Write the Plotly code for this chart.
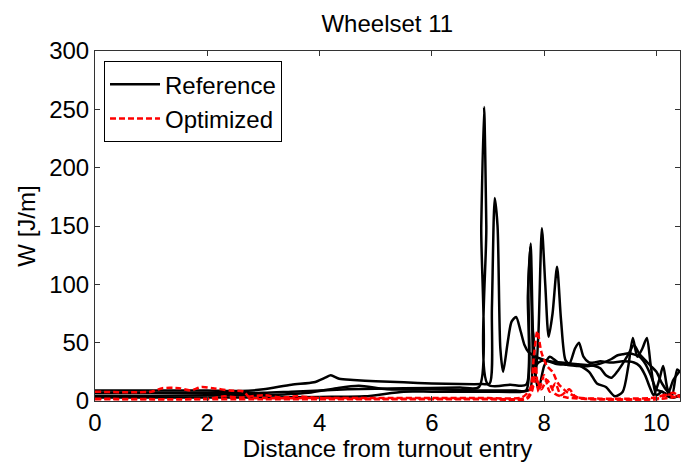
import plotly.graph_objects as go

# ---- Reference (black) curves ----
ref1_x = [0, 1, 2, 3, 3.5, 4.5, 5.5, 6.5, 6.84, 6.88, 6.93, 6.97, 7.0, 7.4, 7.68, 7.71, 7.75, 7.79, 7.84, 7.9, 8.0, 8.2, 8.4, 8.6, 8.8, 9.0, 9.2, 9.3, 9.4, 9.5, 9.6, 9.7, 9.8, 9.9, 10.0, 10.1, 10.2, 10.3, 10.42]
ref1_y = [7, 7, 7, 7, 8, 10, 11, 11.5, 12, 150, 252, 150, 14, 14, 14, 90, 132, 60, 30, 33, 35, 32, 31, 30, 30, 32, 36, 39, 40, 41, 40, 38, 32, 22, 10, 8, 6, 18, 26]

ref2_x = [0, 1, 2, 2.6, 3.0, 3.5, 3.9, 4.1, 4.2, 4.35, 4.6, 5.0, 5.5, 6.0, 6.5, 6.9, 7.03, 7.07, 7.12, 7.17, 7.22, 7.27, 7.35, 7.42, 7.5, 7.58, 7.65, 7.72, 7.78, 7.85, 7.95, 8.1, 8.3, 8.5, 8.7, 8.9, 9.0, 9.1, 9.2, 9.3, 9.4, 9.5, 9.6, 9.7, 9.8, 9.9, 10.0, 10.1, 10.2, 10.3, 10.42]
ref2_y = [9, 9, 9, 8.5, 10, 14, 16, 20, 22, 19, 18, 17, 16, 15, 14.5, 14.5, 15, 80, 174, 150, 45, 25, 50, 68, 72, 60, 48, 42, 40, 38, 36, 34, 33, 32, 31, 30, 28, 22, 20, 25, 32, 40, 48, 40, 35, 30, 25, 15, 8, 3, 5]

ref3_x = [0, 1, 2, 3, 3.8, 4.3, 4.7, 5.2, 6.0, 6.8, 7.0, 7.5, 7.68, 7.72, 7.76, 7.8, 7.85, 7.9, 8.0, 8.1, 8.25, 8.4, 8.6, 8.8, 8.94, 9.1, 9.26, 9.4, 9.5, 9.58, 9.66, 9.75, 9.83, 9.9, 10.0, 10.1, 10.2, 10.3, 10.42]
ref3_y = [4.5, 4.5, 5, 5, 7, 11, 13, 10, 10, 9, 9, 9, 9, 100, 135, 60, 20, 10, 30, 38, 33, 32, 31, 25, 15, 12, 4, 8, 30, 54, 38, 45, 54, 30, 5, 8, 4, 3, 5]

ref4_x = [0, 1, 2, 3, 4, 4.8, 5.5, 6.0, 7.0, 7.6, 7.75, 7.8, 7.85, 7.9, 7.96, 8.02, 8.08, 8.15, 8.23, 8.3, 8.38, 8.45, 8.55, 8.62, 8.7, 8.8, 8.9, 9.0, 9.2, 9.4, 9.6, 9.7, 9.8, 9.88, 9.95, 10.05, 10.12, 10.2, 10.28, 10.37, 10.42]
ref4_y = [3, 3, 3, 3, 3.5, 4, 8, 8, 8, 8, 10, 60, 20, 60, 148, 100, 55, 75, 115, 70, 35, 32, 45, 50, 38, 33, 33, 34, 33, 34, 33, 30, 22, 12, 5, 18, 30, 10, 5, 27, 25]

# ---- Optimized (red dashed) curves ----
opt1_x = [0, 1.0, 1.2, 1.5, 1.7, 1.9, 2.1, 2.4, 2.65, 2.75, 3.0, 4.0, 5.0, 6.0, 7.0, 7.6, 7.75, 7.82, 7.88, 7.95, 8.05, 8.15, 8.25, 8.4, 8.6, 9.0, 9.5, 10.0, 10.2, 10.3, 10.42]
opt1_y = [8, 8, 11, 11, 9, 12, 11, 9, 8, 3, 2.5, 2.5, 2.5, 2.5, 2.5, 3, 10, 40, 60, 42, 30, 25, 15, 8, 3, 2, 2, 3, 6, 4, 5]

opt2_x = [0, 2.0, 2.3, 2.6, 3.0, 3.3, 3.6, 4.0, 4.5, 5, 6, 7, 7.7, 7.8, 7.85, 7.9, 8.0, 8.1, 8.2, 8.3, 8.45, 8.55, 8.7, 9, 10, 10.3, 10.42]
opt2_y = [2, 2, 4, 3, 5, 3, 4, 2.5, 2, 2, 2, 2, 3, 15, 30, 8, 22, 8, 15, 5, 10, 4, 2, 1.5, 2, 7, 3]

opt3_x = [0, 3, 5, 7, 7.7, 7.78, 7.85, 7.95, 8.05, 8.2, 8.4, 9, 10, 10.42]
opt3_y = [1.5, 1.5, 1.5, 1.5, 2, 8, 20, 10, 18, 6, 3, 1.5, 1.5, 4]

x_ticks = [0, 2, 4, 6, 8, 10]
y_ticks = [0, 50, 100, 150, 200, 250, 300]

FONT = "Liberation Sans, Arial, sans-serif"
FS = 24

fig = go.Figure()
refs = [(ref1_x, ref1_y), (ref2_x, ref2_y), (ref3_x, ref3_y), (ref4_x, ref4_y)]
for i, (xs, ys) in enumerate(refs):
    fig.add_trace(go.Scatter(x=xs, y=ys, mode="lines", name="Reference",
                             legendgroup="ref", showlegend=(i == 0),
                             line=dict(color="black", width=2.5, shape="spline", smoothing=0.7)))
opts = [(opt1_x, opt1_y), (opt2_x, opt2_y), (opt3_x, opt3_y)]
for i, (xs, ys) in enumerate(opts):
    fig.add_trace(go.Scatter(x=xs, y=ys, mode="lines", name="Optimized",
                             legendgroup="opt", showlegend=(i == 0),
                             line=dict(color="red", width=2.5, dash="6px,3px",
                                       shape="spline", smoothing=0.7)))

axis_common = dict(showline=True, linecolor="#333333", linewidth=1, mirror="ticks",
                   ticks="inside", ticklen=5, tickcolor="#333333", showgrid=False,
                   zeroline=False, tickfont=dict(family=FONT, size=FS, color="black"))

fig.update_layout(
    width=683, height=462,
    margin=dict(l=95, r=3, t=51, b=61),
    paper_bgcolor="white", plot_bgcolor="white",
    font=dict(family=FONT, color="black"),
    title=dict(text="Wheelset 11", x=0.567, xanchor="center", y=1 - 24 / 462,
               yanchor="middle", yref="container",
               font=dict(family=FONT, size=FS, color="black")),
    xaxis=dict(range=[0, 10.42], tickvals=x_ticks, ticktext=[str(v) for v in x_ticks],
               title=dict(text="Distance from turnout entry", standoff=2,
                          font=dict(family=FONT, size=FS, color="black")),
               **axis_common),
    yaxis=dict(range=[0, 300], tickvals=y_ticks, ticktext=[str(v) for v in y_ticks],
               title=dict(text="W [J/m]", standoff=6,
                          font=dict(family=FONT, size=FS, color="black")),
               **axis_common),
    legend=dict(x=0.0154, y=0.971, xanchor="left", yanchor="top",
                bgcolor="white", bordercolor="black", borderwidth=1,
                font=dict(family=FONT, size=FS, color="black"),
                tracegroupgap=0, itemwidth=50),
    showlegend=True,
)

fig.write_html("out.html")
